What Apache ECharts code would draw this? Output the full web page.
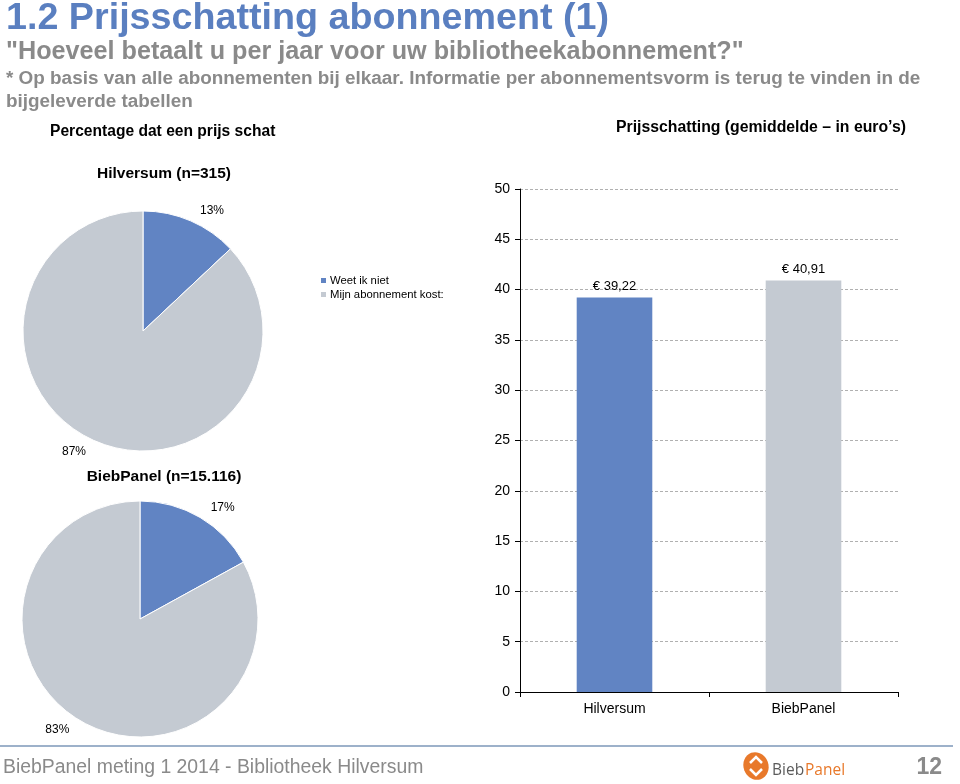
<!DOCTYPE html>
<html>
<head>
<meta charset="utf-8">
<script src="https://cdn.jsdelivr.net/npm/echarts@6/dist/echarts.min.js"></script>
<style>
    html, body {margin: 0; padding: 0; background: #fff;}
    #main {width: 960px; height: 784px;}
</style>
</head>
<body>
<div id="main"></div>
<script>
// data
let pieNames = ['Weet ik niet', 'Mijn abonnement kost:'];
let hilversumPie = [13, 87];
let biebPanelPie = [17, 83];
let barCategories = ['Hilversum', 'BiebPanel'];
let barValues = [39.22, 40.91];
let yTicks = {min: 0, max: 50, interval: 5};

let FONT = '"Liberation Sans", Arial, sans-serif';
let BLUE = '#6184c3';
let GREY = '#c4cad2';
let TXT_GREY = '#8a8a8a';
let ORANGE = '#e8792b';

let myChart = echarts.init(document.getElementById('main'));

let pieSeries = (values, center, radius) => {  // taartdiagram
    return {
        type: 'pie',
        center: center,
        radius: radius,
        startAngle: 90,
        clockwise: true,
        avoidLabelOverlap: false,
        silent: true,
        itemStyle: {borderColor: '#fff', borderWidth: 1},
        label: {
            show: true,
            position: 'outside',
            formatter: '{c}%',
            fontFamily: FONT,
            fontSize: 12,
            color: '#000'
        },
        labelLine: {show: false, length: 11, length2: 0},
        data: values.map((v, i) => {
            return {value: v, name: pieNames[i], itemStyle: {color: i == 0 ? BLUE : GREY}};
        })
    }
};

let txt = (text, x, y, size, color, weight, align, font) => {
    return {
        type: 'text',
        x: x,
        y: y,
        silent: true,
        style: {
            text: text,
            fontFamily: font || FONT,
            fontSize: size,
            fontWeight: weight || 'normal',
            fill: color,
            align: align || 'left',
            verticalAlign: 'middle'
        }
    }
};

let option = {
    animation: false,
    backgroundColor: '#fff',
    legend: {
        orient: 'vertical',
        left: 314,
        top: 270,
        itemWidth: 7,
        itemHeight: 7,
        itemGap: 3,
        icon: 'rect',
        selectedMode: false,
        data: pieNames,
        textStyle: {fontFamily: FONT, fontSize: 11.3, color: '#000', padding: [0, 0, 0, -2]}
    },
    grid: {left: 520, right: 62, top: 189, bottom: 92},
    xAxis: {
        type: 'category',
        data: barCategories,
        axisLine: {lineStyle: {color: '#000', width: 1}},
        axisTick: {show: true, alignWithLabel: false, length: 5, lineStyle: {color: '#000'}},
        axisLabel: {fontFamily: FONT, fontSize: 14, color: '#000', margin: 10}
    },
    yAxis: {
        type: 'value',
        min: yTicks.min,
        max: yTicks.max,
        interval: yTicks.interval,
        axisLine: {show: true, lineStyle: {color: '#000', width: 1}},
        axisTick: {show: true, length: 5, lineStyle: {color: '#000'}},
        axisLabel: {fontFamily: FONT, fontSize: 14, color: '#000', margin: 10},
        splitLine: {show: true, lineStyle: {color: '#b0b0b0', type: [3, 2], width: 1}}
    },
    series: [
        pieSeries(hilversumPie, [143, 331], 120),
        pieSeries(biebPanelPie, [140, 619], 118),
        {
            type: 'bar',
            silent: true,
            barWidth: '40%',
            data: barValues.map((v, i) => {
                return {value: v, itemStyle: {color: i == 0 ? BLUE : GREY}};
            }),
            label: {
                show: true,
                position: 'top',
                distance: 5,
                fontFamily: FONT,
                fontSize: 13,
                color: '#000',
                formatter: (p) => '€ ' + p.value.toFixed(2).replace('.', ',')
            }
        }
    ],
    graphic: [
        txt('1.2 Prijsschatting abonnement (1)', 6, 19, 37.7, '#5a7fc0', 'bold'),
        txt('"Hoeveel betaalt u per jaar voor uw bibliotheekabonnement?"', 6, 52, 25.2, TXT_GREY, 'bold'),
        txt('* Op basis van alle abonnementen bij elkaar. Informatie per abonnementsvorm is terug te vinden in de', 6, 79, 18.9, TXT_GREY, 'bold'),
        txt('bijgeleverde tabellen', 6, 102, 18.9, TXT_GREY, 'bold'),
        txt('Percentage dat een prijs schat', 50, 132, 15.6, '#000', 'bold'),
        txt('Prijsschatting (gemiddelde \u2013 in euro\u2019s)', 616, 128, 15.8, '#000', 'bold'),
        txt('Hilversum (n=315)', 164, 174, 15.5, '#000', 'bold', 'center'),
        txt('BiebPanel (n=15.116)', 164, 477, 15.5, '#000', 'bold', 'center'),
        {
            type: 'line',
            silent: true,
            shape: {x1: 0, y1: 746, x2: 953, y2: 746},
            style: {stroke: '#7d97b9', lineWidth: 1.5}
        },
        txt('BiebPanel meting 1 2014 - Bibliotheek Hilversum', 3, 768, 19.4, TXT_GREY),
        txt('12', 942, 768, 23, TXT_GREY, 'bold', 'right'),
        // logo
        {
            type: 'ellipse',
            silent: true,
            shape: {cx: 0, cy: 0, rx: 12.5, ry: 14},
            x: 756, y: 766,
            rotation: 0.35,
            style: {fill: ORANGE}
        },
        {
            type: 'polyline',
            silent: true,
            shape: {points: [[750, 763], [756, 757], [762, 763]]},
            style: {stroke: '#fff', lineWidth: 2.5, fill: null}
        },
        {
            type: 'polyline',
            silent: true,
            shape: {points: [[750, 769], [756, 775], [762, 769]]},
            style: {stroke: '#fff', lineWidth: 2.5, fill: null}
        },
        txt('Bieb', 772, 771, 15.5, '#5b5b5b', 'normal', 'left', '"Open Sans", sans-serif'),
        txt('Panel', 805, 771, 15.5, ORANGE, 'normal', 'left', '"Open Sans", sans-serif')
    ]
};

myChart.setOption(option);
</script>
</body>
</html>
